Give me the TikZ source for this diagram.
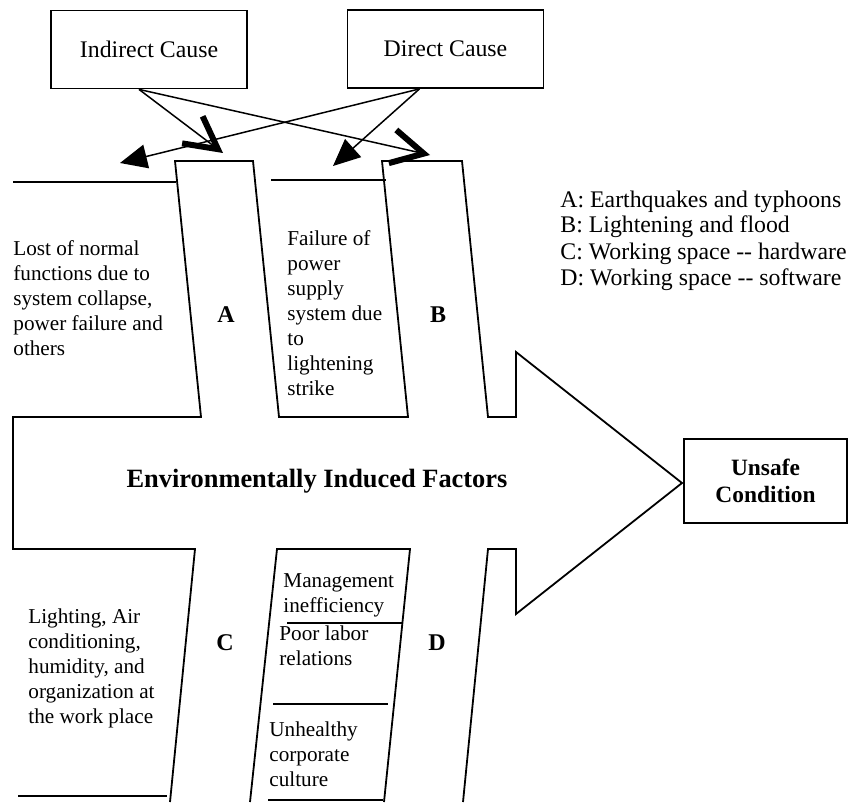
\documentclass[tikz,border=0pt]{standalone}
\usepackage{fontspec}
\setmainfont{Liberation Serif}
\usetikzlibrary{arrows.meta,positioning}
\tikzset{
  cause/.style={draw, line width=0.9pt, minimum width=98pt, minimum height=39pt, inner sep=0pt, font=\fontsize{11.9}{13}\selectfont},
  note/.style={align=left, anchor=base west, inner sep=0pt, font=\fontsize{10.6}{12.5}\selectfont},
  zone/.style={inner sep=0pt, font=\bfseries\fontsize{12}{14}\selectfont},
  hit/.style={line width=0.75pt, -{Triangle[length=13.5pt, width=12pt]}},
  cue/.style={line width=0.75pt, -{Straight Barb[length=16pt, width=17pt, line width=3pt]}}
}
\begin{document}
\begin{tikzpicture}[x=0.5pt, y=-0.5pt, line join=miter]
\useasboundingbox (0,0) rectangle (866,802);
\node[cause] (indirect) at (149,49.5) {Indirect Cause};
\node[cause] (direct) at (445.5,49) {Direct Cause};
\node[draw, line width=0.9pt, minimum width=81.5pt, minimum height=42pt, align=center, font=\bfseries\fontsize{11.7}{13.5}\selectfont] (unsafe) at (765.5,481) {Unsafe\\Condition};
\coordinate (leftcue) at (223,153); \coordinate (rightcue) at (430,155);
\coordinate (lefthit) at (120,163); \coordinate (midhit) at (333,166);
\draw[line width=0.9pt] (170,802) -- (195,549) -- (13,549) -- (13,417) -- (201,417) -- (175,161) -- (253,161) -- (279,417) -- (408,417) -- (382,161) -- (462,161) -- (488,417) -- (516,417) -- (516,352) -- (682,483) -- (516,614) -- (516,549) -- (488,549) -- (463,802);
\draw[line width=0.9pt] (250,802) -- (277,549) -- (410,549) -- (384,802);
\draw[line width=0.8pt] (13,182) -- (176,182) (271,180) -- (386,180) (287,623) -- (402,623) (273,704) -- (388,704) (18,796) -- (167,796) (268,800) -- (383,800);
\draw[cue] ([xshift=-5pt]indirect.south) -- (leftcue);
\draw[cue] ([xshift=-5pt]indirect.south) -- (rightcue);
\draw[hit] ([xshift=-13pt]direct.south) -- (lefthit);
\draw[hit] ([xshift=-13pt]direct.south) -- (midhit);
\node[note] (lost) at (13,355) {Lost of normal\\functions due to\\system collapse,\\power failure and\\others};
\node[note] (power) at (287,395) {Failure of\\power\\supply\\system due\\to\\lightening\\strike};
\node[note] (light) at (28,723) {Lighting, Air\\conditioning,\\humidity, and\\organization at\\the work place};
\node[note] (manage) at (283,612) {Management\\inefficiency};
\node[note] (labor) at (279,665) {Poor labor\\relations};
\node[note] (culture) at (269,786) {Unhealthy\\corporate\\culture};
\node[zone] (a) at (226,315) {A};
\node[zone] (b) at (438,315) {B};
\node[zone] (c) at (225,643) {C};
\node[zone] (d) at (437,643) {D};
\node[inner sep=0pt, font=\bfseries\fontsize{13.2}{15}\selectfont] (title) at (317,481) {Environmentally Induced Factors};
\node[note, font=\fontsize{11.9}{13}\selectfont] (legend) at (560,285) {A: Earthquakes and typhoons\\B: Lightening and flood\\C: Working space -{}- hardware\\D: Working space -{}- software};
\end{tikzpicture}
\end{document}
